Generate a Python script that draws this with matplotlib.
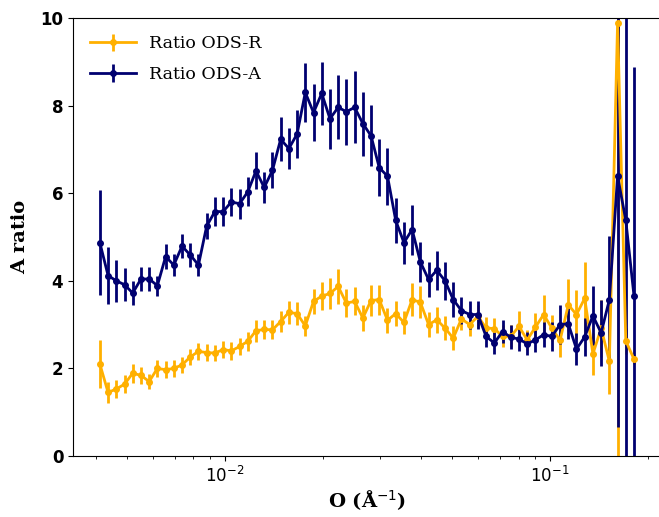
import matplotlib
matplotlib.use("Agg")
import matplotlib.pyplot as plt

# Q positions (log spaced bins)
q = [0.004124, 0.004371, 0.004633, 0.004911, 0.005205, 0.005517, 0.005848, 0.006198,
     0.006569, 0.006963, 0.007380, 0.007822, 0.008291, 0.008788, 0.009315, 0.009873,
     0.010465, 0.011092, 0.011757, 0.012462, 0.013209, 0.014000, 0.014839, 0.015728,
     0.016671, 0.017670, 0.018729, 0.019852, 0.021041, 0.022302, 0.023639, 0.025056,
     0.026557, 0.028149, 0.029836, 0.031624, 0.033519, 0.035528, 0.037657, 0.039914,
     0.042306, 0.044841, 0.047529, 0.050377, 0.053396, 0.056596, 0.059988, 0.063583,
     0.067394, 0.071433, 0.075714, 0.080251, 0.085061, 0.090158, 0.095561, 0.101288,
     0.107358, 0.113792, 0.120612, 0.127840, 0.135501, 0.143622, 0.152229, 0.161352,
     0.171022, 0.181271]

ratio_r = [2.10, 1.45, 1.53, 1.64, 1.89, 1.84, 1.70, 2.00, 1.97, 2.00, 2.08, 2.26,
           2.39, 2.36, 2.35, 2.43, 2.40, 2.50, 2.62, 2.86, 2.89, 2.88, 3.07, 3.28,
           3.25, 2.97, 3.53, 3.65, 3.71, 3.87, 3.49, 3.53, 3.15, 3.55, 3.57, 3.10,
           3.25, 3.05, 3.57, 3.51, 3.00, 3.11, 2.92, 2.69, 3.13, 3.00, 3.19, 2.92,
           2.91, 2.73, 2.73, 2.96, 2.65, 2.94, 3.23, 2.92, 2.64, 3.45, 3.23, 3.60,
           2.33, 2.92, 2.16, 9.89, 2.63, 2.21]
err_r = [0.55, 0.23, 0.20, 0.20, 0.22, 0.20, 0.17, 0.19, 0.19, 0.19, 0.19, 0.19,
         0.19, 0.19, 0.19, 0.19, 0.20, 0.20, 0.22, 0.25, 0.22, 0.22, 0.25, 0.27,
         0.27, 0.23, 0.29, 0.32, 0.35, 0.39, 0.32, 0.32, 0.30, 0.36, 0.34, 0.29,
         0.29, 0.27, 0.38, 0.36, 0.28, 0.30, 0.27, 0.27, 0.25, 0.25, 0.26, 0.25,
         0.24, 0.25, 0.25, 0.36, 0.22, 0.32, 0.44, 0.30, 0.38, 0.60, 0.57, 0.82,
         0.48, 0.65, 0.75, 10.2, 0.30, 0.10]

ratio_a = [4.87, 4.12, 4.00, 3.91, 3.72, 4.04, 4.04, 3.89, 4.55, 4.36, 4.79, 4.59,
           4.36, 5.25, 5.58, 5.58, 5.80, 5.76, 6.03, 6.51, 6.13, 6.52, 7.23, 7.02,
           7.35, 8.30, 7.84, 8.28, 7.70, 7.96, 7.86, 7.96, 7.59, 7.31, 6.58, 6.39,
           5.38, 4.87, 5.17, 4.43, 4.03, 4.24, 4.00, 3.57, 3.32, 3.23, 3.23, 2.73,
           2.58, 2.84, 2.71, 2.67, 2.56, 2.65, 2.77, 2.73, 3.00, 3.02, 2.44, 2.72,
           3.20, 2.81, 3.57, 6.39, 5.38, 3.65]
err_a = [1.20, 0.65, 0.48, 0.38, 0.27, 0.27, 0.27, 0.23, 0.29, 0.25, 0.27, 0.27,
         0.25, 0.29, 0.34, 0.33, 0.32, 0.34, 0.33, 0.42, 0.36, 0.41, 0.50, 0.47,
         0.55, 0.67, 0.65, 0.72, 0.69, 0.73, 0.75, 0.82, 0.73, 0.70, 0.65, 0.65,
         0.51, 0.48, 0.57, 0.45, 0.40, 0.44, 0.44, 0.40, 0.30, 0.32, 0.32, 0.25,
         0.24, 0.27, 0.27, 0.27, 0.26, 0.27, 0.29, 0.34, 0.44, 0.35, 0.37, 0.43,
         0.67, 0.75, 1.45, 5.72, 6.50, 5.24]

orange = "#ffb000"
navy = "#000070"

fig = plt.figure(figsize=(6.59, 5.17), dpi=100)
ax = fig.add_axes([0.1108, 0.118, 0.8918, 0.8472])

ax.errorbar(q, ratio_r, yerr=err_r, color=orange, marker="o", markersize=4,
            linewidth=2, elinewidth=2, label="Ratio ODS-R")
ax.errorbar(q, ratio_a, yerr=err_a, color=navy, marker="o", markersize=4,
            linewidth=2, elinewidth=2, label="Ratio ODS-A")

ax.set_xscale("log")
ax.set_xlim(0.00341, 0.219)
ax.set_ylim(0, 10)
ax.set_yticks([0, 2, 4, 6, 8, 10])
for lab in ax.get_yticklabels():
    lab.set_fontweight("bold")
ax.tick_params(axis="both", labelsize=12)

ax.set_xlabel("O (Å$^{-1}$)", family="DejaVu Serif", fontweight="bold", fontsize=14,
              labelpad=2)
ax.set_ylabel("A ratio", family="DejaVu Serif", fontweight="bold", fontsize=14,
              labelpad=8)

ax.legend(loc="upper left", frameon=False, handlelength=2.6, labelspacing=0.8,
          borderaxespad=0.6, prop={"family": "DejaVu Serif", "size": 12.5})

fig.savefig("out.png", dpi=100)
